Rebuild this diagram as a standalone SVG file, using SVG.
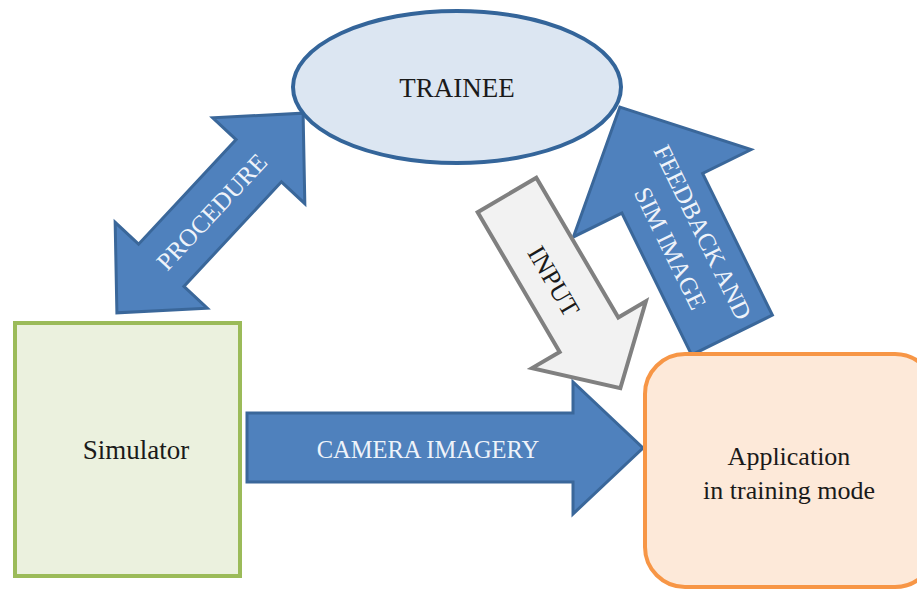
<svg xmlns="http://www.w3.org/2000/svg" width="917" height="590" viewBox="0 0 917 590">
<style>
.blue{fill:#4F81BD;stroke:#3A679A;stroke-width:3;stroke-linejoin:miter}
.gray{fill:#F2F2F2;stroke:#808080;stroke-width:4;stroke-linejoin:miter}
text{font-family:'Liberation Serif','DejaVu Serif',serif}
.lbl{fill:#1a1a1a}
.wl{fill:#EEF3FA}
</style>
<rect width="917" height="590" fill="#ffffff"/>
<g id="connectors">
  <g id="procedure" transform="translate(210,213) rotate(-47)">
    <polygon class="blue" points="-136.5,0 -71.5,-63 -71.5,-31 71.5,-31 71.5,-63 136.5,0 71.5,63 71.5,31 -71.5,31 -71.5,63"/>
    <text class="wl" x="2" y="9" font-size="25" text-anchor="middle" font-family="Liberation Serif, serif">PROCEDURE</text>
  </g>
  <g id="camera">
    <polygon class="blue" points="247,413 573,413 573,382 643,448 573,514 573,482 247,482"/>
    <text class="wl" x="428" y="458" font-size="24.5" text-anchor="middle" font-family="Liberation Serif, serif">CAMERA IMAGERY</text>
  </g>
  <g id="feedback">
    <polygon class="blue" transform="translate(732,335) rotate(-116.2)" points="0,-45 158,-45 158,-99 254,0 158,99 158,45 0,45"/>
    <g transform="translate(687,240) rotate(63.8)">
      <text class="wl" x="0" y="-9" font-size="25" text-anchor="middle" font-family="Liberation Serif, serif">FEEDBACK AND</text>
      <text class="wl" x="0" y="27" font-size="25" text-anchor="middle" font-family="Liberation Serif, serif">SIM IMAGE</text>
    </g>
  </g>
  <g id="input" transform="translate(507,195) rotate(59.6)">
    <polygon class="gray" points="0,-34 162,-34 162,-66 224,0 162,66 162,34 0,34"/>
    <text class="lbl" x="98" y="12" font-size="26" text-anchor="middle" font-family="Liberation Serif, serif">INPUT</text>
  </g>
</g>
<g id="trainee">
  <ellipse cx="457" cy="87" rx="164" ry="76" fill="#DCE6F2" stroke="#34659A" stroke-width="4"/>
  <text class="lbl" x="457" y="97" font-size="27" text-anchor="middle" font-family="Liberation Serif, serif">TRAINEE</text>
</g>
<g id="simulator">
  <rect x="15" y="323" width="225" height="253" fill="#EBF1DE" stroke="#9BBB59" stroke-width="4"/>
  <text class="lbl" x="136" y="459" font-size="27" text-anchor="middle" font-family="Liberation Serif, serif">Simulator</text>
</g>
<g id="application">
  <rect x="645" y="354" width="290" height="233" rx="40" ry="40" fill="#FDE9D9" stroke="#F79646" stroke-width="4"/>
  <text class="lbl" x="789" y="465" font-size="26" text-anchor="middle" font-family="Liberation Serif, serif">Application</text>
  <text class="lbl" x="789" y="499" font-size="26" text-anchor="middle" font-family="Liberation Serif, serif">in training mode</text>
</g>
</svg>
